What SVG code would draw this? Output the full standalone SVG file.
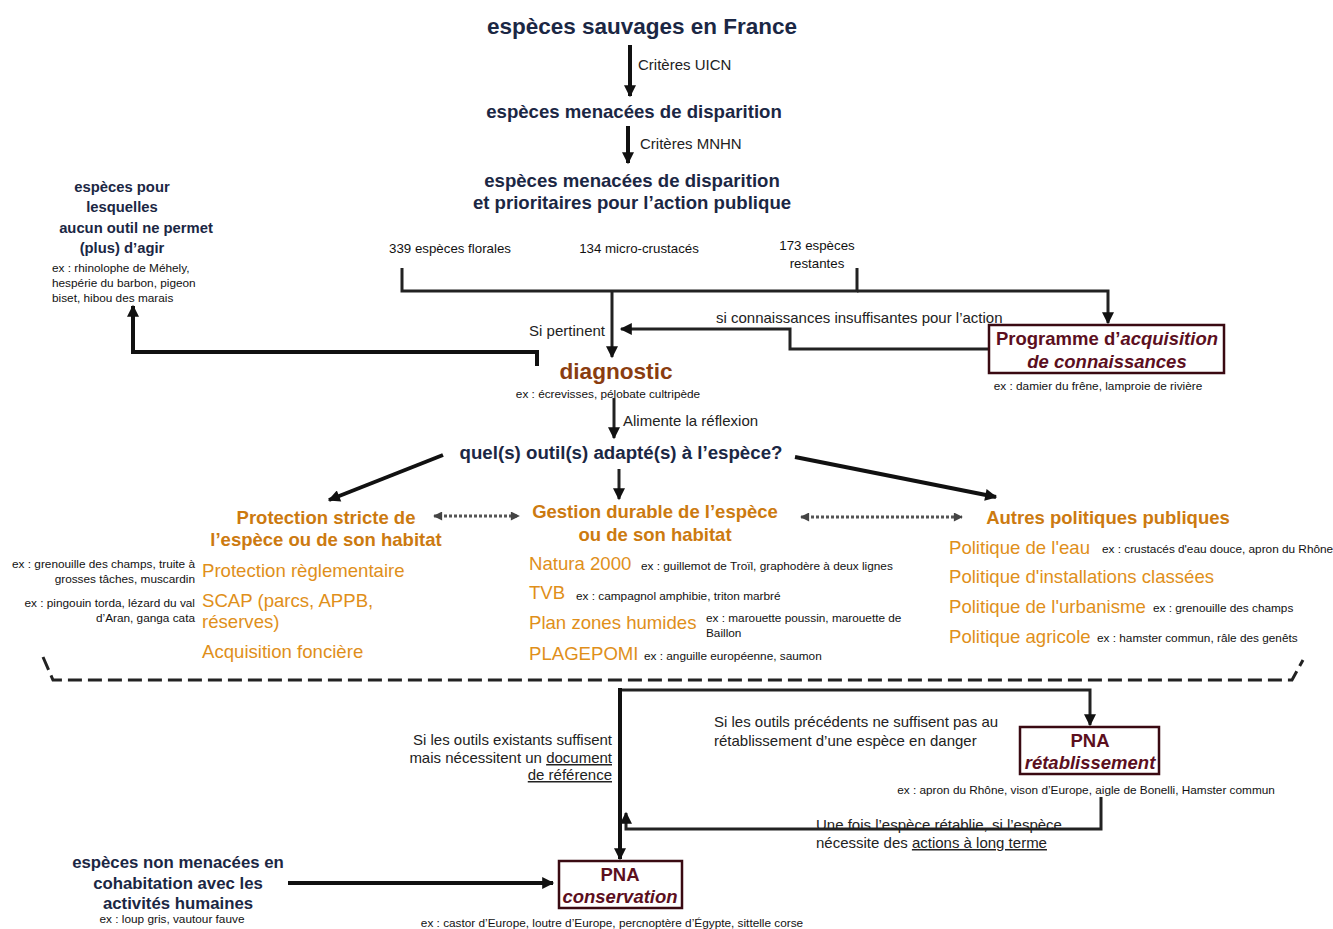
<svg xmlns="http://www.w3.org/2000/svg" width="1333" height="929" viewBox="0 0 1333 929">
<style>
text{font-family:"Liberation Sans",Arial,sans-serif}
.t1{font-weight:bold;fill:#1b2744}
.nv{font-weight:bold;fill:#1b2744;font-size:16.8px}
.nvs{font-weight:bold;fill:#1b2744;font-size:14.8px}
.lbl{font-size:15px;fill:#222}
.ex{font-size:11.8px;fill:#111}
.gr{font-size:13.3px;fill:#111}
.oh{font-weight:bold;fill:#cc7a10;font-size:18.5px}
.oi{fill:#e08f1a;font-size:18.6px}
.bx{font-weight:bold;fill:#5c0f1e;font-size:18.5px}
.box{fill:#fff;stroke:#3a0a12;stroke-width:2.5}
.ln{fill:none;stroke:#222;stroke-width:3}
.lnt{fill:none;stroke:#111;stroke-width:4}
.dot{fill:none;stroke:#555;stroke-width:3;stroke-dasharray:3 2}
.dash{fill:none;stroke:#222;stroke-width:3;stroke-dasharray:14 6}
.u{text-decoration:underline}
</style>
<defs>
<marker id="ah" viewBox="0 0 10 10" refX="9" refY="5" markerWidth="13" markerHeight="12" markerUnits="userSpaceOnUse" orient="auto">
<path d="M0,0 L10,5 L0,10 z" fill="#111"/>
</marker>
<marker id="ahs" viewBox="0 0 10 10" refX="9" refY="5" markerWidth="10" markerHeight="9" markerUnits="userSpaceOnUse" orient="auto-start-reverse">
<path d="M0,0 L10,5 L0,10 z" fill="#444"/>
</marker>
</defs>

<g id="connectors">
<path class="lnt" d="M630 45 V96" marker-end="url(#ah)"/>
<path class="lnt" d="M628 126 V163" marker-end="url(#ah)"/>
<path class="ln" d="M402 268 V291 H857 V268"/>
<path class="ln" d="M857 291 H1108 V323" marker-end="url(#ah)"/>
<path class="ln" d="M612 291 V357" marker-end="url(#ah)"/>
<path class="ln" d="M989 349 H790 V329 H621" marker-end="url(#ah)"/>
<path class="lnt" d="M537 366 V352 H133 V306" marker-end="url(#ah)"/>
<path class="ln" d="M614 398 V438" marker-end="url(#ah)"/>
<path class="lnt" d="M443 455 L329 500" marker-end="url(#ah)"/>
<path class="ln" d="M619 469 V499" marker-end="url(#ah)"/>
<path class="lnt" d="M795 457 L996 497" marker-end="url(#ah)"/>
<path class="dot" d="M434 516 H519" marker-start="url(#ahs)" marker-end="url(#ahs)"/>
<path class="dot" d="M801 517 H962" marker-start="url(#ahs)" marker-end="url(#ahs)"/>
<path class="dash" d="M43 657 L53 680 H1292 L1303 660"/>
<path class="ln" d="M620 690 H1090 V725" marker-end="url(#ah)"/>
<path class="lnt" d="M620 688 V859" marker-end="url(#ah)"/>
<path class="ln" d="M1101 797 V829 H626 V813" marker-end="url(#ah)"/>
<path class="lnt" d="M288 883 H553" marker-end="url(#ah)"/>
</g>

<g id="n-sauvages"><text class="t1" x="642" y="34" font-size="22.5" text-anchor="middle">espèces sauvages en France</text></g>
<g id="lbl-uicn"><text class="lbl" x="638" y="70">Critères UICN</text></g>
<g id="n-menacees"><text class="t1" x="634" y="118" font-size="18.6" text-anchor="middle">espèces menacées de disparition</text></g>
<g id="lbl-mnhn"><text class="lbl" x="640" y="149">Critères MNHN</text></g>
<g id="n-prioritaires">
<text class="t1" x="632" y="187" font-size="18.6" text-anchor="middle">espèces menacées de disparition</text>
<text class="t1" x="632" y="209" font-size="18.6" text-anchor="middle">et prioritaires pour l’action publique</text>
</g>
<g id="n-groups">
<text class="gr" x="450" y="253" text-anchor="middle">339 espèces florales</text>
<text class="gr" x="639" y="253" text-anchor="middle">134 micro-crustacés</text>
<text class="gr" x="817" y="250" text-anchor="middle">173 espèces</text>
<text class="gr" x="817" y="268" text-anchor="middle">restantes</text>
</g>
<g id="n-aucun-outil">
<text class="nvs" x="122" y="192" text-anchor="middle">espèces pour</text>
<text class="nvs" x="122" y="212" text-anchor="middle">lesquelles</text>
<text class="nvs" x="136" y="233" text-anchor="middle">aucun outil ne permet</text>
<text class="nvs" x="122" y="253" text-anchor="middle">(plus) d’agir</text>
<text class="ex" x="52" y="272">ex : rhinolophe de Méhely,</text>
<text class="ex" x="52" y="287">hespérie du barbon, pigeon</text>
<text class="ex" x="52" y="302">biset, hibou des marais</text>
</g>
<g id="lbl-pertinent"><text class="lbl" x="605" y="336" text-anchor="end">Si pertinent</text></g>
<g id="lbl-connaissances"><text class="lbl" x="716" y="323">si connaissances insuffisantes pour l’action</text></g>
<g id="n-programme">
<rect class="box" x="989" y="325" width="235" height="48"/>
<text class="bx" x="1107" y="345" text-anchor="middle">Programme d’<tspan font-style="italic">acquisition</tspan></text>
<text class="bx" x="1107" y="368" text-anchor="middle" font-style="italic">de connaissances</text>
<text class="ex" x="1098" y="390" text-anchor="middle">ex : damier du frêne, lamproie de rivière</text>
</g>
<g id="n-diagnostic">
<text x="616" y="379" font-size="22.6" font-weight="bold" fill="#8a3d10" text-anchor="middle">diagnostic</text>
<text class="ex" x="608" y="398" text-anchor="middle">ex : écrevisses, pélobate cultripède</text>
</g>
<g id="lbl-alimente"><text class="lbl" x="623" y="426">Alimente la réflexion</text></g>
<g id="n-quel"><text class="t1" x="621" y="459" font-size="18.7" text-anchor="middle">quel(s) outil(s) adapté(s) à l’espèce?</text></g>
<g id="n-protection">
<text class="oh" x="326" y="524" text-anchor="middle">Protection stricte de</text>
<text class="oh" x="326" y="546" text-anchor="middle">l’espèce ou de son habitat</text>
<text class="oi" x="202" y="577">Protection règlementaire</text>
<text class="oi" x="202" y="607">SCAP (parcs, APPB,</text>
<text class="oi" x="202" y="628">réserves)</text>
<text class="oi" x="202" y="658">Acquisition foncière</text>
<text class="ex" x="195" y="568" text-anchor="end">ex : grenouille des champs, truite à</text>
<text class="ex" x="195" y="583" text-anchor="end">grosses tâches, muscardin</text>
<text class="ex" x="195" y="607" text-anchor="end">ex : pingouin torda, lézard du val</text>
<text class="ex" x="195" y="622" text-anchor="end">d’Aran, ganga cata</text>
</g>
<g id="n-gestion">
<text class="oh" x="655" y="518" text-anchor="middle">Gestion durable de l’espèce</text>
<text class="oh" x="655" y="541" text-anchor="middle">ou de son habitat</text>
<text class="oi" x="529" y="570">Natura 2000</text>
<text class="ex" x="641" y="570">ex : guillemot de Troïl, graphodère à deux lignes</text>
<text class="oi" x="529" y="599">TVB</text>
<text class="ex" x="576" y="600">ex : campagnol amphibie, triton marbré</text>
<text class="oi" x="529" y="629">Plan zones humides</text>
<text class="ex" x="706" y="622">ex : marouette poussin, marouette de</text>
<text class="ex" x="706" y="637">Baillon</text>
<text class="oi" x="529" y="660">PLAGEPOMI</text>
<text class="ex" x="644" y="660">ex : anguille européenne, saumon</text>
</g>
<g id="n-autres">
<text class="oh" x="1108" y="524" text-anchor="middle">Autres politiques publiques</text>
<text class="oi" x="949" y="554">Politique de l'eau</text>
<text class="ex" x="1102" y="553">ex : crustacés d'eau douce, apron du Rhône</text>
<text class="oi" x="949" y="583">Politique d'installations classées</text>
<text class="oi" x="949" y="613">Politique de l'urbanisme</text>
<text class="ex" x="1153" y="612">ex : grenouille des champs</text>
<text class="oi" x="949" y="643">Politique agricole</text>
<text class="ex" x="1097" y="642">ex : hamster commun, râle des genêts</text>
</g>
<g id="lbl-existants">
<text class="lbl" x="612" y="745" text-anchor="end">Si les outils existants suffisent</text>
<text class="lbl" x="612" y="763" text-anchor="end">mais nécessitent un <tspan class="u">document</tspan></text>
<text class="lbl" x="612" y="780" text-anchor="end" style="text-decoration:underline">de référence</text>
</g>
<g id="lbl-precedents">
<text class="lbl" x="714" y="727">Si les outils précédents ne suffisent pas au</text>
<text class="lbl" x="714" y="746">rétablissement d’une espèce en danger</text>
</g>
<g id="n-pna-retab">
<rect class="box" x="1020" y="727" width="139" height="47"/>
<text class="bx" x="1090" y="747" text-anchor="middle">PNA</text>
<text class="bx" x="1090" y="769" text-anchor="middle" font-style="italic">rétablissement</text>
<text class="ex" x="1086" y="794" text-anchor="middle">ex : apron du Rhône, vison d’Europe, aigle de Bonelli, Hamster commun</text>
</g>
<g id="lbl-retablie">
<text class="lbl" x="816" y="830">Une fois l’espèce rétablie, si l’espèce</text>
<text class="lbl" x="816" y="848">nécessite des <tspan class="u">actions à long terme</tspan></text>
</g>
<g id="n-non-menacees">
<text class="nv" x="178" y="868" text-anchor="middle">espèces non menacées en</text>
<text class="nv" x="178" y="889" text-anchor="middle">cohabitation avec les</text>
<text class="nv" x="178" y="909" text-anchor="middle">activités humaines</text>
<text class="ex" x="172" y="923" text-anchor="middle">ex : loup gris, vautour fauve</text>
</g>
<g id="n-pna-cons">
<rect class="box" x="559" y="861" width="123" height="47"/>
<text class="bx" x="620" y="881" text-anchor="middle">PNA</text>
<text class="bx" x="620" y="903" text-anchor="middle" font-style="italic" font-weight="normal">conservation</text>
<text class="ex" x="612" y="927" text-anchor="middle">ex : castor d’Europe, loutre d’Europe, percnoptère d’Égypte, sittelle corse</text>
</g>
</svg>
